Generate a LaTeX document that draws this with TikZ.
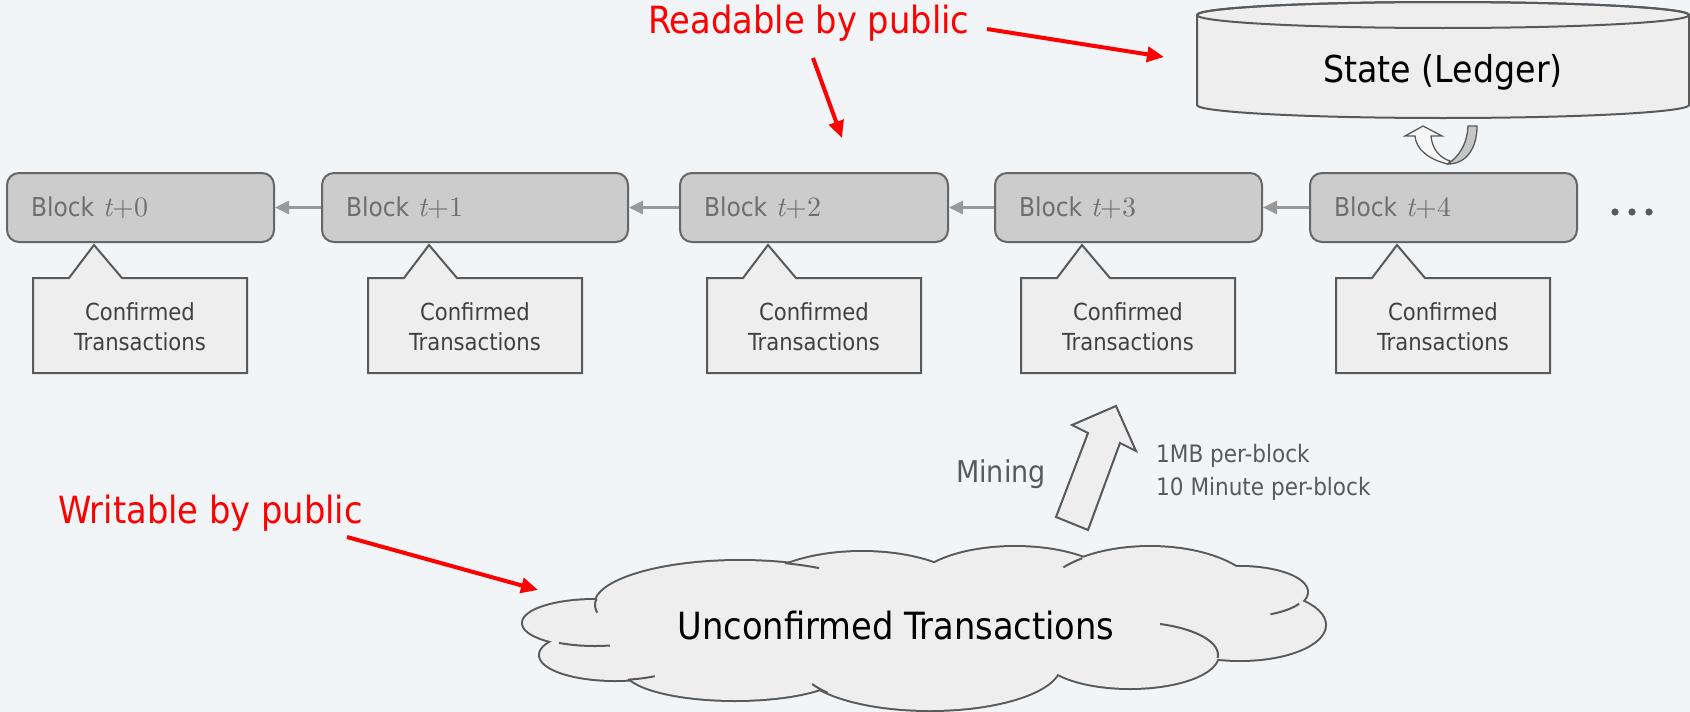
\documentclass[tikz,border=0pt]{standalone}
\usepackage[no-math]{fontspec}
\IfFontExistsTF{DejaVu Sans Condensed}
  {\setmainfont{DejaVu Sans Condensed}}
  {\setmainfont{PT Sans}}
\newfontfamily\lmserif{lmroman10-regular}[Extension=.otf, ItalicFont=lmroman10-italic]
\usetikzlibrary{arrows.meta}

\definecolor{bgcol}{HTML}{F2F5F8}
\definecolor{blockfill}{HTML}{CCCCCC}
\definecolor{blockedge}{HTML}{666666}
\definecolor{blocktext}{HTML}{6E6E6E}
\definecolor{softfill}{HTML}{EEEEEE}
\definecolor{softedge}{HTML}{595959}
\definecolor{linktone}{HTML}{999999}
\definecolor{darktext}{HTML}{404040}
\definecolor{notered}{HTML}{FF0000}

% block label: "Block t+n" with a serif t+n
\newcommand{\blk}[1]{Block {\fontsize{28}{30}\selectfont\lmserif\itshape t}{\fontsize{28}{30}\selectfont\lmserif +#1}}

% one "Confirmed Transactions" call-out below a block: left edge #1, node name #2
\newcommand{\confbox}[2]{%
  \path[softshape] (#1,-278) -- ++(36,0) -- ++(25,33) -- ++(28,-33)
    -- (#1+214,-278) -- (#1+214,-373) -- (#1,-373) -- cycle;
  \node[conftext] (#2) at (#1+107,-327) {Confirmed\\Transactions};}

\begin{document}
\begin{tikzpicture}[x=1pt,y=1pt,
  blockbox/.style={draw=blockedge, fill=blockfill, line width=2pt,
    rounded corners=12pt, minimum height=69pt, inner xsep=24pt, inner ysep=0pt,
    text width=#1, align=left, text=blocktext, font=\fontsize{26}{30}\selectfont},
  softshape/.style={draw=softedge, fill=softfill, line width=2pt, line join=miter},
  conftext/.style={inner sep=0pt, align=center, text=darktext,
    font=\fontsize{23.5}{30}\selectfont},
  chainlink/.style={draw=linktone, line width=3pt,
    -{Triangle[length=14pt,width=13pt]}},
  redarrow/.style={draw=notered, line width=4pt,
    -{Triangle[length=17pt,width=15pt]}},
  redtext/.style={inner sep=0pt, anchor=base west, text=notered,
    font=\fontsize{37.5}{40}\selectfont},
]
% page and background
\useasboundingbox (0,0) rectangle (1690,-712);
\fill[bgcol] (0,0) rectangle (1690,-712);

% ---- State (Ledger) store ----
\path[softshape] (1197,-15) -- (1197,-105)
  arc[start angle=180, end angle=360, x radius=246, y radius=13]
  -- (1689,-15) arc[start angle=0, end angle=180, x radius=246, y radius=13] -- cycle;
\draw[softedge, line width=2pt] (1443,-15) ellipse[x radius=246, y radius=13];
\node[inner sep=0pt, anchor=base, font=\fontsize{37}{40}\selectfont] (state)
  at (1443,-82) {State (Ledger)};

% ---- update loop between block t+4 and the state ----
\path[draw=softedge, fill=gray!45, line width=1.3pt]
  (1468,-126) -- (1477,-126) .. controls (1477,-150) and (1465,-164) .. (1448,-164)
  .. controls (1459,-156) and (1467,-145) .. (1468,-126) -- cycle;
\path[draw=softedge, fill=white!93!gray, line width=1.3pt]
  (1448,-164) .. controls (1430,-160) and (1416,-150) .. (1415,-136)
  -- (1405,-136) -- (1423,-126) -- (1442,-136) -- (1431,-136)
  .. controls (1432,-149) and (1440,-158) .. (1450,-161) -- cycle;

% ---- the chain of blocks ----
\node[blockbox=219pt] (b0) at (140.5,-207.5) {\blk{0}};
\node[blockbox=258pt] (b1) at (475,-207.5) {\blk{1}};
\node[blockbox=220pt] (b2) at (814,-207.5) {\blk{2}};
\node[blockbox=219pt] (b3) at (1128.5,-207.5) {\blk{3}};
\node[blockbox=219pt] (b4) at (1443.5,-207.5) {\blk{4}};

\draw[chainlink] (b1.west) -- (b0.east);
\draw[chainlink] (b2.west) -- (b1.east);
\draw[chainlink] (b3.west) -- (b2.east);
\draw[chainlink] (b4.west) -- (b3.east);

% more blocks follow
\foreach \dx in {1615,1632,1649}
  \fill[softedge] (\dx,-212) circle[radius=3.6];

% ---- confirmed transactions of each block ----
\confbox{33}{c0}
\confbox{368}{c1}
\confbox{707}{c2}
\confbox{1021}{c3}
\confbox{1336}{c4}

% ---- mining ----
\path[softshape] (1088,-530) -- (1056,-517) -- (1088,-433) -- (1072,-425)
  -- (1116,-406) -- (1136,-451) -- (1120,-443) -- cycle;
\node[inner sep=0pt, anchor=base west, text=softedge,
  font=\fontsize{30}{34}\selectfont] (mining) at (956,-482) {Mining};
\node[inner sep=0pt, anchor=west, align=left, text=softedge,
  font=\fontsize{24}{33}\selectfont] (limits) at (1156,-472.5)
  {1MB per-block\\10 Minute per-block};

% ---- pool of unconfirmed transactions: a cloud of puffs ----
% outline: each puff stroked at double width, then all puffs filled over it
\def\puffs{595/623/72/23, 740/605/145/44, 862/600/112/48, 1015/590/103/43,
  1150/600/110/53, 1240/592/67/25, 1240/625/85/35, 1130/655/88/33,
  930/665/130/45, 735/670/110/30, 615/655/75/25}
\foreach \cx/\cy/\rx/\ry in \puffs
  \draw[softedge, line width=4pt] (\cx,-\cy) ellipse[x radius=\rx, y radius=\ry];
\foreach \cx/\cy/\rx/\ry in \puffs
  \fill[softfill] (\cx,-\cy) ellipse[x radius=\rx, y radius=\ry];
\fill[softfill] (920,-625) ellipse[x radius=330, y radius=50];
% inner ends of the puffs
\begin{scope}[draw=softedge, line width=2pt]
  \foreach \cx/\cy/\rx/\ry/\aa/\ab in {
      595/623/72/23/-120/-78, 740/605/145/44/172/190, 740/605/145/44/72/57,
      1150/600/110/53/128/142, 1240/592/67/25/-28/-63, 1130/655/88/33/70/-5,
      930/665/130/45/218/205, 615/655/75/25/-80/-58}
    \draw ([shift={(\aa:\rx pt and \ry pt)}]\cx,-\cy)
      arc[start angle=\aa, end angle=\ab, x radius=\rx, y radius=\ry];
\end{scope}
\node[inner sep=0pt, anchor=base, font=\fontsize{37.5}{40}\selectfont] (pool)
  at (896,-639) {Unconfirmed Transactions};

% ---- access notes ----
\node[redtext] (readnote) at (648,-33) {Readable by public};
\node[redtext] (writenote) at (58,-523) {Writable by public};

\coordinate (readA) at (813,-58);
\coordinate (readAend) at (842,-138);
\coordinate (readB) at (987,-29);
\coordinate (readBend) at (1164,-57);
\coordinate (writeA) at (347,-537);
\coordinate (writeAend) at (538,-590);
\draw[redarrow] (readA) -- (readAend);
\draw[redarrow] (readB) -- (readBend);
\draw[redarrow] (writeA) -- (writeAend);
\end{tikzpicture}
\end{document}
